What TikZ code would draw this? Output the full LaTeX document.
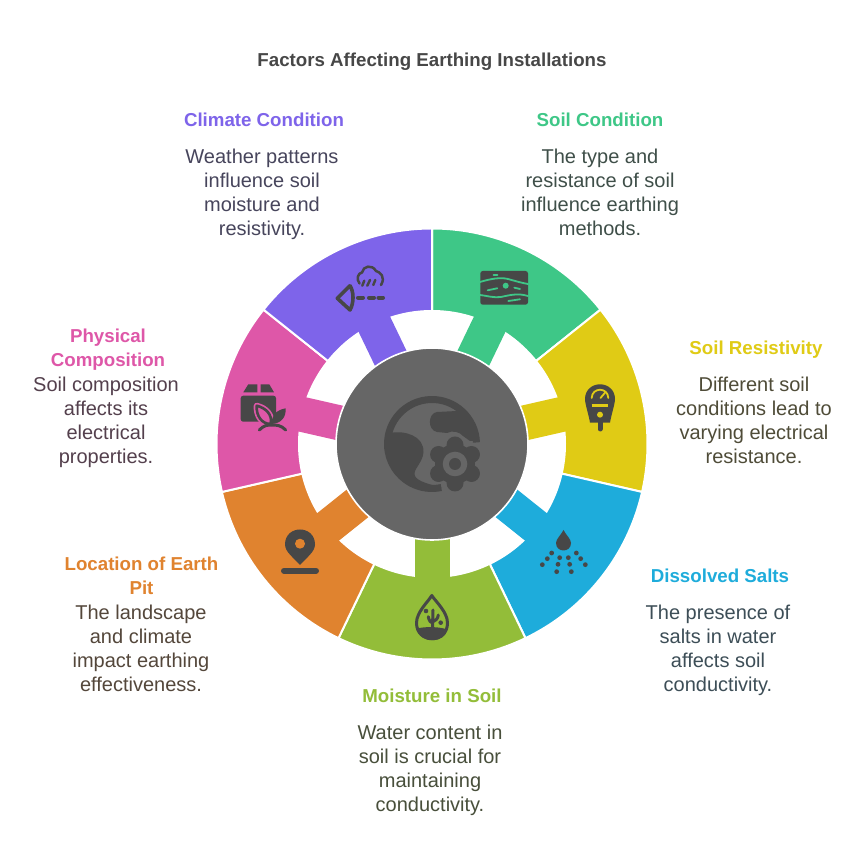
\documentclass[tikz,border=0pt]{standalone}
\usepackage{fontspec}
\setmainfont{Liberation Sans}
\definecolor{cgreen}{HTML}{3EC787}
\definecolor{cyellow}{HTML}{E0CB15}
\definecolor{cblue}{HTML}{1EACDB}
\definecolor{clime}{HTML}{93BD39}
\definecolor{corange}{HTML}{E0832F}
\definecolor{cpink}{HTML}{DE57A8}
\definecolor{cpurple}{HTML}{7E64EA}
\definecolor{hub}{HTML}{666666}
\definecolor{ink}{HTML}{474747}
\definecolor{hubink}{HTML}{4A4A4A}
\definecolor{tgreen}{HTML}{3F4F49}
\definecolor{tyellow}{HTML}{4F4C38}
\definecolor{tblue}{HTML}{3D4E57}
\definecolor{tlime}{HTML}{484F3B}
\definecolor{torange}{HTML}{54473B}
\definecolor{tpink}{HTML}{54404D}
\definecolor{tpurple}{HTML}{47455C}
\definecolor{ttitle}{HTML}{474747}
\tikzset{
  head/.style={inner sep=0pt,align=center,font=\fontsize{18.7}{24}\selectfont\bfseries},
  body/.style={inner sep=0pt,align=center,font=\fontsize{20}{24}\selectfont},
  yd/.style={yshift=864pt,y=-1pt},
  thinink/.style={draw=ink,line cap=round,line join=round},
}
\begin{document}
\begin{tikzpicture}[x=1pt,y=1pt]
\useasboundingbox (0,0) rectangle (864,864);
\fill[white] (0,0) rectangle (864,864);
% ring
\begin{scope}[shift={(432,420)}]
\foreach \a/\b/\c in {90/38.57/cgreen,38.57/-12.86/cyellow,-12.86/-64.29/cblue,-64.29/-115.71/clime,-115.71/-167.14/corange,-167.14/-218.57/cpink,-218.57/-270/cpurple}{
  \path[fill=\c,draw=white,line width=2pt,line join=miter] (\a:215.5) arc[start angle=\a,end angle=\b,radius=215.5] -- (\b:133) arc[start angle=\b,end angle=\a,radius=133] -- cycle;
  \pgfmathsetmacro{\m}{(\a+\b)/2}
  \begin{scope}[rotate=\m]
    \fill[\c] (90,-17.5) rectangle (135,17.5);
  \end{scope}
}
\fill[hub,draw=white,line width=1.6pt] (0,0) circle[radius=96];
% hub icon
\draw[hubink,line width=7pt] (2:44.5) arc[start angle=2,end angle=282,radius=44.5];
\end{scope}
\begin{scope}[yd]
\fill[hubink] (390,433) .. controls (405,430) and (424,436) .. (423.5,452) .. controls (423,463) and (412,470) .. (415,476) .. controls (418,482) and (430,484) .. (442,488) -- (432,490) .. controls (405,490) and (386,465) .. (388,433) -- cycle;
\fill[hubink] (437,412) .. controls (428,413) and (427,430) .. (437,432) -- (447,433) .. controls (452,430) and (460,432) .. (463,436) -- (470,441) -- (478,441) .. controls (478,430) and (470,418) .. (457,411) -- cycle;
\foreach \t in {90,30,-30,-90,-150,150}{
  \fill[hub] ({455+19*cos(\t)},{464+19*sin(\t)}) circle[radius=10.5];
}
\fill[hub] (455,464) circle[radius=22];
\foreach \t in {90,30,-30,-90,-150,150}{
  \fill[hubink] ({455+19*cos(\t)},{464+19*sin(\t)}) circle[radius=8.5];
}
\fill[hubink] (455,464) circle[radius=20];
\fill[hub] (455,464) circle[radius=12.3];
\fill[hubink] (455,464) circle[radius=6];
% green icon
\fill[ink,rounded corners=2.5pt] (480.3,271) rectangle (528,304.7);
\begin{scope}[draw=cgreen,line cap=round,line width=1.8pt]
\draw (480,282) .. controls (490,279) and (500,277) .. (508,279) .. controls (515,281) and (522,283) .. (528,284);
\draw (480,295) .. controls (488,296) and (494,298) .. (501,297) .. controls (510,295) and (518,293) .. (528,296);
\draw (493.5,275) -- (497.5,275);
\draw (487.7,290.3) -- (497.3,288.3);
\draw (514.3,287.7) -- (520,289);
\draw (508.3,301) -- (520,299.3);
\end{scope}
\fill[cgreen] (505.7,285.7) circle[radius=3];
% purple icon
\draw[thinink,line width=2.5pt] (359.5,283.5) .. controls (356,279) and (358,273) .. (362,272.5) .. controls (363,266) and (372,264) .. (376,271) .. controls (380,272) and (386,277) .. (381,285);
\draw[thinink,line width=2.5pt] (362.3,285.7) -- (364.3,280.7) (367.3,285.7) -- (370,280) (373.3,285) -- (375.3,280);
\draw[thinink,line width=3.6pt] (350,285.7) -- (337.3,298.3) -- (350,310) .. controls (354,303) and (354,292) .. (350,285.7);
\draw[thinink,line width=4pt] (358,297.7) -- (363,297.7) (369,297.7) -- (374,297.7) (378.5,297.7) -- (383,297.7);
% yellow icon
\fill[ink] (590,422.7) -- (610,422.7) .. controls (611,416) and (615,404) .. (615,399) .. controls (615,390) and (608,384.3) .. (600,384.3) .. controls (592,384.3) and (585,390) .. (585,399) .. controls (585,404) and (589,416) .. (590,422.7) -- cycle;
\draw[ink,line width=5pt,line cap=round] (600,422) -- (600,429);
\draw[cyellow,line width=1.8pt,line cap=round] (591.7,398) .. controls (592,387) and (608,387) .. (608.3,398);
\draw[cyellow,line width=1.8pt,line cap=round] (600.5,398) -- (605,392.7);
\draw[cyellow,line width=2.5pt] (591.7,405.7) -- (608.3,405.7);
\fill[cyellow] (600,414.7) circle[radius=3];
% blue icon
\fill[ink] (563.5,530) .. controls (561,535) and (556,539) .. (556,543) .. controls (556,553) and (571,553) .. (571,543) .. controls (571,539) and (566,535) .. (563.5,530) -- cycle;
\foreach \zx/\zy in {125/549,199/549,112/566,149/563,175/563,212/566,97/584,144/583,179/583,226/584,140/605,184/605}{
  \fill[ink] ({510+\zx/3},{370+\zy/3}) circle[radius=2.4];
}
% lime icon
\draw[ink,line width=3pt,line join=round] (431.8,595.5) .. controls (428,602) and (416.5,612) .. (416.5,623) .. controls (416.5,644) and (447.5,644) .. (447.5,623) .. controls (447.5,612) and (436,602) .. (431.8,595.5) -- cycle;
\fill[ink] (417,628.5) .. controls (424,626.5) and (440,626.5) .. (447,629.5) .. controls (446,643) and (420,645) .. (417,628.5) -- cycle;
\draw[thinink,line width=3pt] (432.5,627) -- (433,610) (428.3,616.7) .. controls (429,621) and (431,623) .. (432.5,623) (438.3,615) .. controls (438,619) and (435,621) .. (433,621.7);
\fill[ink] (426,611) circle[radius=2.3] (440.7,622.7) circle[radius=2.3];
% orange icon
\fill[ink] (300,565) .. controls (294,558) and (285,552) .. (285,544.5) .. controls (285,524.5) and (315,524.5) .. (315,544.5) .. controls (315,552) and (306,558) .. (300,565) -- cycle;
\fill[corange] (300,543.7) circle[radius=5];
\draw[ink,line width=6pt,line cap=round] (284,570.7) -- (316,570.7);
% pink icon
\fill[ink,rounded corners=2.5pt] (240.7,395.7) rectangle (276,421.7);
\fill[ink] (248.3,384.3) -- (257.3,384.3) -- (257.3,392.3) -- (243.3,392.3) -- cycle;
\fill[ink] (260.7,384.3) -- (269.3,384.3) -- (274,392.3) -- (260.7,392.3) -- cycle;
\path[draw=cpink,fill=cpink,line width=6pt,line join=round] (256.7,405.7) .. controls (256,416) and (262,424) .. (270.5,424) .. controls (273,415) and (266,408) .. (256.7,405.7) -- cycle;
\draw[fill=cpink,thinink,line width=2.6pt] (256.7,405.7) .. controls (256,416) and (262,424) .. (270.5,424) .. controls (273,415) and (266,408) .. (256.7,405.7) -- cycle;
\fill[ink] (285.7,408.3) .. controls (276,410) and (271,416) .. (272,424) .. controls (282,423) and (286,417) .. (285.7,408.3) -- cycle;
\draw[thinink,line width=3pt] (259.3,430) .. controls (264,425) and (268,425) .. (271.7,425) .. controls (276,425) and (281,425) .. (285.7,430);
\draw[thinink,line width=3pt] (271.7,425) -- (271.7,420);
% text
\node[head,text=ttitle] (title) at (432,62) {Factors Affecting Earthing Installations};
\node[head,text=cgreen] (h1) at (600,120) {Soil Condition};
\node[body,text=tgreen] (b1) at (600,192) {The type and\\resistance of soil\\influence earthing\\methods.};
\node[head,text=cyellow] (h2) at (756,350) {Soil Resistivity};
\node[body,text=tyellow] (b2) at (754,420) {Different soil\\conditions lead to\\varying electrical\\resistance.};
\node[head,text=cblue] (h3) at (720,576) {Dissolved Salts};
\node[body,text=tblue] (b3) at (718,650) {The presence of\\salts in water\\affects soil\\conductivity.};
\node[head,text=clime] (h4) at (432,696) {Moisture in Soil};
\node[body,text=tlime] (b4) at (430,770) {Water content in\\soil is crucial for\\maintaining\\conductivity.};
\node[head,text=corange] (h5) at (141.5,576) {Location of Earth\\Pit};
\node[body,text=torange] (b5) at (141,648) {The landscape\\and climate\\impact earthing\\effectiveness.};
\node[head,text=cpink] (h6) at (108,350) {Physical\\Composition};
\node[body,text=tpink] (b6) at (106,422) {Soil composition\\affects its\\electrical\\properties.};
\node[head,text=cpurple] (h7) at (264,120) {Climate Condition};
\node[body,text=tpurple] (b7) at (262,194) {Weather patterns\\influence soil\\moisture and\\resistivity.};
\end{scope}
\end{tikzpicture}
\end{document}
